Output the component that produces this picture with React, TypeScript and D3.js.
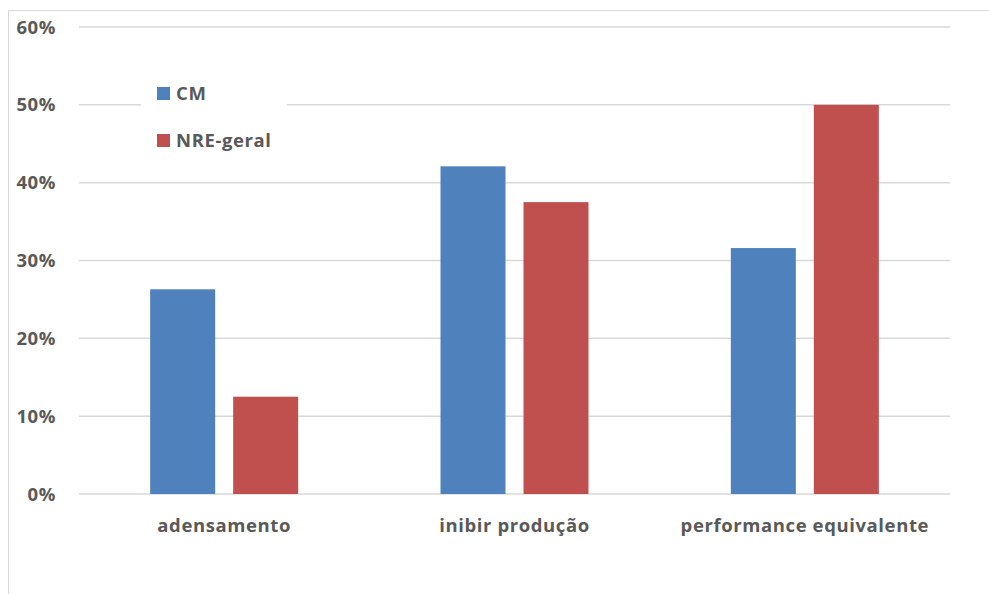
import React from "react";
import * as d3 from "d3";

const categories = ["adensamento", "inibir produção", "performance equivalente"];
const seriesNames = ["CM", "NRE-geral"];
const cmValues = [0.263, 0.421, 0.316];
const nreValues = [0.125, 0.375, 0.5];
const tickValues = [0, 0.1, 0.2, 0.3, 0.4, 0.5, 0.6];
const colors = ["#4f81bd", "#c0504d"];

const W = 989;
const H = 594;
const plot = { left: 79, right: 950, top: 27, bottom: 494 };
const FONT = "'Open Sans', 'DejaVu Sans', sans-serif";
const TEXT = "#595959";
const FS = 18.5;
const LS = 0.6;

export default function App() {
  const y = d3.scaleLinear().domain([0, 0.6]).range([plot.bottom, plot.top]);
  const x0 = d3.scaleBand<string>().domain(categories).range([plot.left, plot.right]);
  const barW = 65;
  const gap = 18;
  const series = [cmValues, nreValues];
  const fmt = d3.format(".0%");

  return (
    <svg
      width={W}
      height={H}
      style={{ position: "absolute", left: 0, top: 0, background: "#fff" }}
      fontFamily={FONT}
    >
      {/* chart frame */}
      <rect x={8.5} y={10.5} width={1000} height={700} fill="#fff" stroke="#d9d9d9" strokeWidth={1} />

      {/* gridlines */}
      {tickValues.map((t) => (
        <line
          key={t}
          x1={plot.left}
          x2={plot.right}
          y1={y(t)}
          y2={y(t)}
          stroke="#d9d9d9"
          strokeWidth={1.5}
        />
      ))}

      {/* y tick labels */}
      {tickValues.map((t) => (
        <text
          key={"l" + t}
          x={56}
          y={y(t) + 6.5}
          textAnchor="end"
          fontSize={FS}
          letterSpacing={LS}
          fontWeight="bold"
          fill={TEXT}
        >
          {fmt(t)}
        </text>
      ))}

      {/* bars */}
      {categories.map((c, i) => {
        const center = (x0(c) as number) + x0.bandwidth() / 2;
        const start = center - (2 * barW + gap) / 2;
        return series.map((vals, s) => (
          <rect
            key={c + s}
            x={start + s * (barW + gap)}
            y={y(vals[i])}
            width={barW}
            height={plot.bottom - y(vals[i])}
            fill={colors[s]}
          />
        ));
      })}

      {/* category labels */}
      {categories.map((c) => (
        <text
          key={"c" + c}
          x={(x0(c) as number) + x0.bandwidth() / 2}
          y={532}
          textAnchor="middle"
          fontSize={FS}
          letterSpacing={LS}
          fontWeight="bold"
          fill={TEXT}
        >
          {c}
        </text>
      ))}

      {/* legend */}
      <rect x={141} y={70} width={146} height={90} fill="#fff" />
      {seriesNames.map((n, i) => (
        <g key={n} transform={`translate(157, ${87 + i * 47})`}>
          <rect x={0} y={0} width={13} height={13} fill={colors[i]} />
          <text x={19} y={13} fontSize={FS} letterSpacing={LS} fontWeight="bold" fill={TEXT}>
            {n}
          </text>
        </g>
      ))}
    </svg>
  );
}
